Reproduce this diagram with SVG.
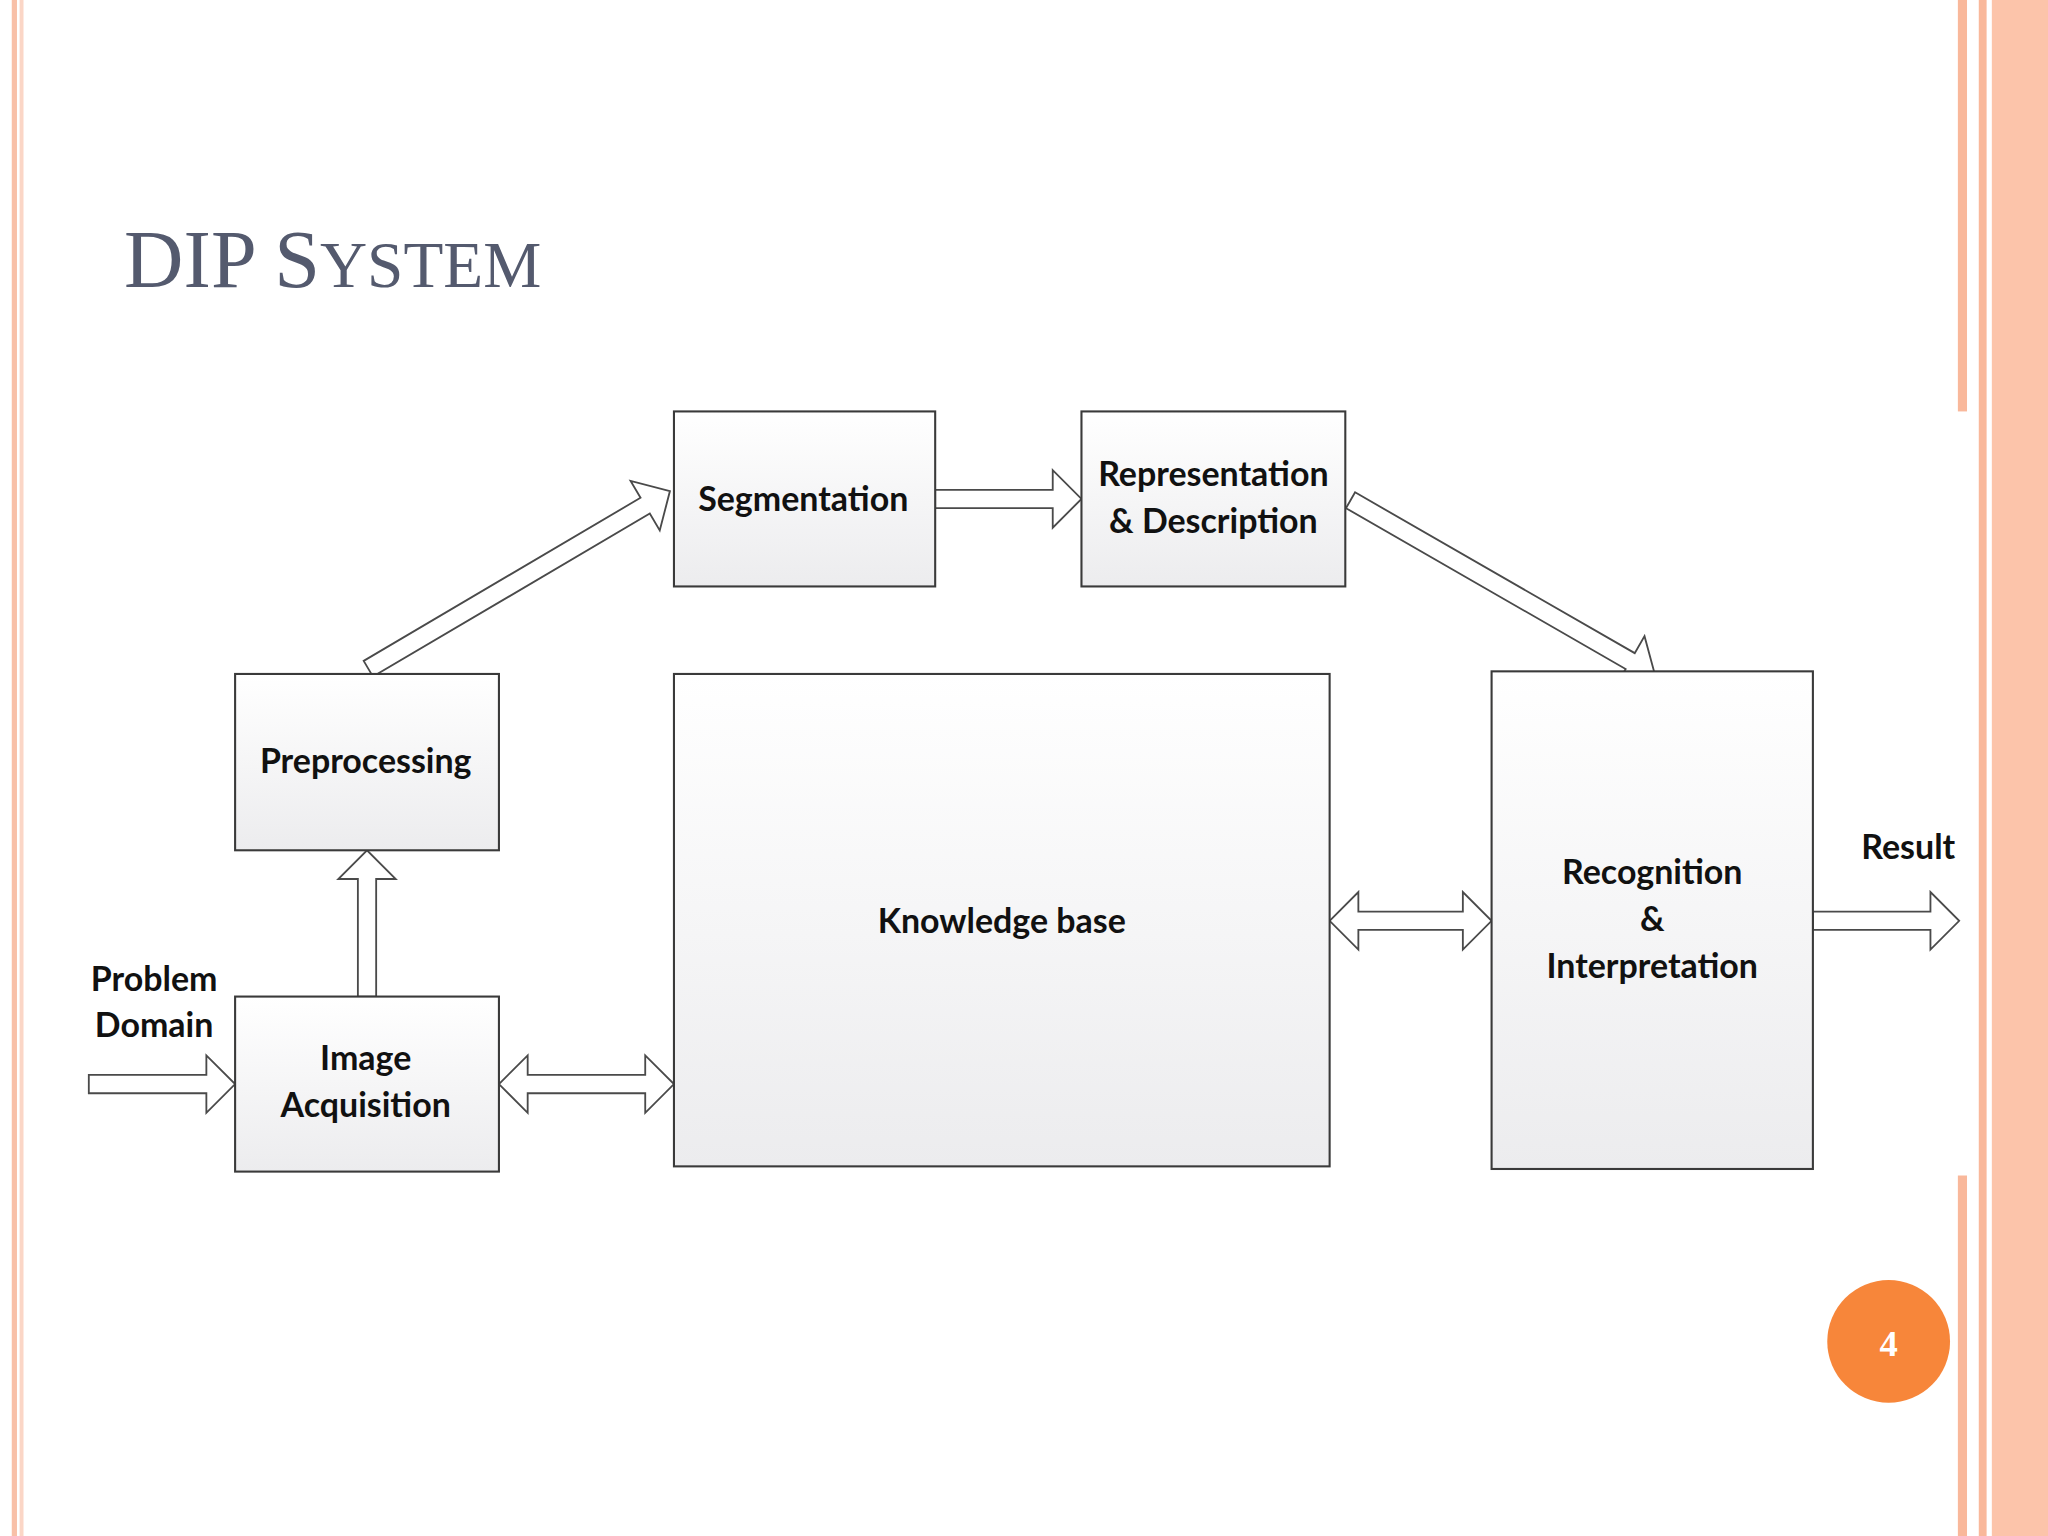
<svg xmlns="http://www.w3.org/2000/svg" width="2048" height="1536" viewBox="0 0 2048 1536">
<defs>
<linearGradient id="g" x1="0" y1="0" x2="0" y2="1"><stop offset="0" stop-color="#ffffff"/><stop offset="1" stop-color="#ececee"/></linearGradient>
<style>
.box{fill:url(#g);stroke:#3a3a3a;stroke-width:1.6}
.arr{fill:#ffffff;stroke:#4a4a4a;stroke-width:1.4}
.t{font-family:Lato,"Open Sans",sans-serif;font-weight:bold;font-size:26px;fill:#111;text-anchor:middle}
</style>
</defs>
<rect width="2048" height="1536" fill="#ffffff"/>
<g transform="scale(1.30612)">
<g id="frame">
<rect x="9" y="0" width="4" height="1176" fill="#f8c0a8"/>
<rect x="15" y="0" width="3" height="1176" fill="#fbd6c6"/>
<rect x="1499" y="0" width="7" height="315" fill="#f9b89b"/>
<rect x="1499" y="900" width="7" height="276" fill="#f9b89b"/>
<rect x="1515" y="0" width="6" height="1176" fill="#f9b89b"/>
<rect x="1525" y="0" width="43" height="1176" fill="#fcc4aa"/>
</g>
<g id="title"><text x="95" y="220" font-family="Liberation Serif,serif" fill="#545a6e"><tspan font-size="63">DIP S</tspan><tspan font-size="50">YSTEM</tspan></text></g>
<g id="connectors">
<polygon class="arr" points="68,823 158,823 158,808 180,830 158,852 158,837 68,837"/>
<polygon class="arr" points="382,830 404,808 404,823 494,823 494,808 516,830 494,852 494,837 404,837 404,852"/>
<polygon class="arr" points="274,763 274,673 259,673 281,651 303,673 288,673 288,763"/>
<polygon class="arr" points="716,375 806,375 806,360 828,382 806,404 806,389 716,389"/>
<polygon class="arr" points="1018,705 1040,683 1040,698 1120,698 1120,683 1142,705 1120,727 1120,712 1040,712 1040,727"/>
<polygon class="arr" points="1388,698 1478,698 1478,683 1500,705 1478,727 1478,712 1388,712"/>
<g transform="translate(282,512) rotate(-30.5)"><polygon class="arr" points="0,-7 246,-7 246,-22 268,0 246,22 246,7 0,7"/></g>
<g transform="translate(1034,383) rotate(29.9)"><polygon class="arr" points="0,-7 247,-7 247,-22 269,0 247,22 247,7 0,7"/></g>
</g>
<g id="seg"><rect class="box" x="516" y="315" width="200" height="134"/><text class="t" x="615" y="391">Segmentation</text></g>
<g id="rep"><rect class="box" x="828" y="315" width="202" height="134"/><text class="t" x="929" y="372">Representation</text><text class="t" x="929" y="408">&amp; Description</text></g>
<g id="pre"><rect class="box" x="180" y="516" width="202" height="135"/><text class="t" x="280" y="592">Preprocessing</text></g>
<g id="ia"><rect class="box" x="180" y="763" width="202" height="134"/><text class="t" x="280" y="819">Image</text><text class="t" x="280" y="855">Acquisition</text></g>
<g id="kb"><rect class="box" x="516" y="516" width="502" height="377"/><text class="t" x="767" y="714" font-size="31">Knowledge base</text></g>
<g id="rec"><rect class="box" x="1142" y="514" width="246" height="381"/><text class="t" x="1265" y="677">Recognition</text><text class="t" x="1265" y="713">&amp;</text><text class="t" x="1265" y="749">Interpretation</text></g>
<g id="labels"><text class="t" x="118" y="759">Problem</text><text class="t" x="118" y="794">Domain</text><text class="t" x="1461" y="658">Result</text></g>
<g id="page"><circle cx="1446" cy="1027" r="47" fill="#f7863a"/><text x="1446" y="1038" font-family="Liberation Serif,serif" font-weight="bold" font-size="28" fill="#fff" text-anchor="middle">4</text></g>
</g>
</svg>
